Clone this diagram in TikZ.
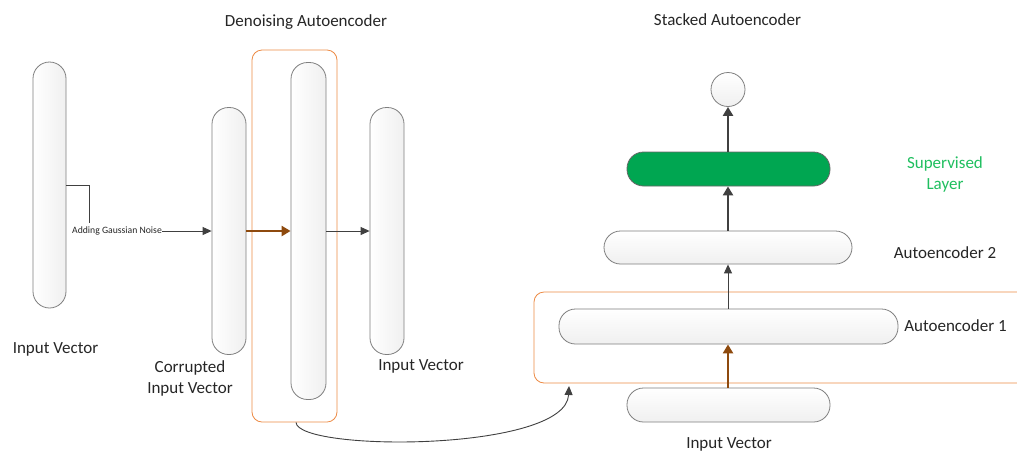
\documentclass[tikz,border=0pt]{standalone}
\usepackage{fontspec}
\setmainfont{Carlito}
\usetikzlibrary{arrows.meta,calc}
\definecolor{txt}{HTML}{262626}
\definecolor{edge}{HTML}{7F7F7F}
\definecolor{arr}{HTML}{404040}
\definecolor{org}{HTML}{ED8B45}
\definecolor{brn}{HTML}{8E4A0E}
\definecolor{grn}{HTML}{00A651}
\definecolor{grntxt}{HTML}{1FBF5F}
\tikzset{
  vbar/.style={draw=edge, line width=0.8pt, rounded corners=16.5pt, left color=white, right color=gray!12, minimum width=#1, inner sep=0pt},
  hbar/.style={draw=edge, line width=0.8pt, rounded corners=16.5pt, top color=white, bottom color=gray!12, minimum height=34pt, inner sep=0pt},
  frame/.style={draw=org, line width=0.8pt, rounded corners=10pt},
  lbl/.style={text=txt, font=\fontsize{17}{21}\selectfont, align=center, inner sep=0pt},
  thin/.style={draw=arr, line width=0.9pt, -{Triangle[length=9pt,width=8pt]}},
  thick/.style={draw=arr, line width=2.6pt, -{Triangle[length=9pt,width=10pt]}},
  brown/.style={draw=brn, line width=2.8pt, -{Triangle[length=9pt,width=10pt]}},
}
\begin{document}
\begin{tikzpicture}[x=1pt,y=-1pt]
\clip (0,0) rectangle (1017,451);
\fill[white] (0,0) rectangle (1017,451);
% left part
\node[frame, minimum width=85pt, minimum height=372pt, inner sep=0pt] (f1) at (294.5,236) {};
\node[vbar=33pt, minimum height=246pt] (inL) at (49.5,185) {};
\node[vbar=34pt, minimum height=247pt] (corr) at (229,231) {};
\node[vbar=35pt, minimum height=337pt] (mid) at (308.5,231) {};
\node[vbar=34pt, minimum height=247pt] (outR) at (387,231) {};
\node[text=txt, font=\fontsize{9.7}{11}\selectfont, inner sep=0pt] (noise) at (117,231) {Adding Gaussian Noise};
\coordinate (k) at (89,223);
\draw[arr, line width=1pt] (inL.east) -| (k);
\draw[thin] (noise.east) -- (corr.west);
\draw[brown] (corr.east) -- (mid.west);
\draw[thin] (mid.east) -- (outR.west);
\node[lbl] (t1) at (306,22) {Denoising Autoencoder};
\node[lbl] (l1) at (55.5,349) {Input Vector};
\node[lbl] (l2) at (190,378) {Corrupted\\Input Vector};
\node[lbl] (l3) at (421,366) {Input Vector};
% right part
\draw[frame] (534,292) rectangle (1040,383);
\coordinate (f2) at (569,386);
\node[circle, draw=edge, line width=0.8pt, top color=white, bottom color=gray!12, minimum size=34pt, inner sep=0pt] (out) at (728,89.5) {};
\node[draw=black!60, line width=0.8pt, rounded corners=16.5pt, fill=grn, minimum width=203pt, minimum height=34pt, inner sep=0pt] (sup) at (728.5,169) {};
\node[hbar, minimum width=248pt, minimum height=33pt] (ae2) at (728,247.5) {};
\node[hbar, minimum width=339pt, minimum height=35pt] (ae1) at (728.5,326.5) {};
\node[hbar, minimum width=203pt] (inp) at (728.5,405) {};
\draw[brown] (inp.north -| 728,0) -- (ae1.south -| 728,0);
\draw[thin] (ae1.north -| 728,0) -- (ae2.south -| 728,0);
\draw[thick] (ae2.north -| 728,0) -- (sup.south -| 728,0);
\draw[thick] (sup.north -| 728,0) -- (out.south);
\node[lbl] (t2) at (727.5,20) {Stacked Autoencoder};
\node[lbl, text=grntxt] (l4) at (945,174) {Supervised\\Layer};
\node[lbl] (l5) at (945,253) {Autoencoder 2};
\node[lbl] (l6) at (955.5,326) {Autoencoder 1};
\node[lbl] (l7) at (729,444) {Input Vector};
% curved connector
\draw[thin] ($(f1.south)+(1.5,0)$) .. controls (298,452) and (566,452) .. (f2);
\end{tikzpicture}
\end{document}
